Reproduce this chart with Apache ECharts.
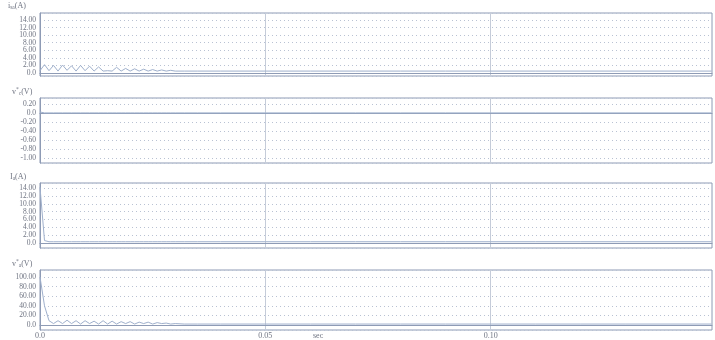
<!DOCTYPE html>
<html><head><meta charset="utf-8">
<script src="https://cdn.jsdelivr.net/npm/echarts@6/dist/echarts.min.js"></script>
<style>html,body{margin:0;padding:0;background:#fff}#c{width:715px;height:340px}</style>
</head><body><div id="c"></div>
<script>
// time samples (s)
const time = [0,0.001,0.002,0.003,0.004,0.005,0.006,0.007,0.008,0.009,0.010,0.011,0.012,0.013,0.014,0.015,0.016,0.017,0.018,0.019,0.020,0.021,0.022,0.023,0.024,0.025,0.026,0.027,0.028,0.029,0.030,0.032,0.035,0.040,0.050,0.060,0.070,0.080,0.090,0.100,0.110,0.120,0.130,0.140,0.149];
// panel 1: i_sa (A)
const iSa = [0.6,2.2,0.6,2.0,0.5,2.1,0.7,1.9,0.5,2.0,0.6,1.8,0.5,1.6,0.5,0.6,0.5,1.5,0.5,1.2,0.5,1.1,0.5,1.0,0.5,0.9,0.5,0.8,0.5,0.7,0.5,0.5,0.5,0.5,0.5,0.5,0.5,0.5,0.5,0.5,0.5,0.5,0.5,0.5,0.5];
// panel 2: v'c (V)
const vC = [0.02,0.0,0.0,0.0,0.0,0.0,0.0,0.0,0.0,0.0,0.0,0.0,0.0,0.0,0.0,0.0,0.0,0.0,0.0,0.0,0.0,0.0,0.0,0.0,0.0,0.0,0.0,0.0,0.0,0.0,0.0,0.0,0.0,0.0,0.0,0.0,0.0,0.0,0.0,0.0,0.0,0.0,0.0,0.0,0.0];
// panel 3: Ia (A)
const iA = [14.2,0.6,0.3,0.3,0.3,0.3,0.3,0.3,0.3,0.3,0.3,0.3,0.3,0.3,0.3,0.3,0.3,0.3,0.3,0.3,0.3,0.3,0.3,0.3,0.3,0.3,0.3,0.3,0.3,0.3,0.3,0.3,0.3,0.3,0.3,0.3,0.3,0.3,0.3,0.3,0.3,0.3,0.3,0.3,0.3];
// panel 4: v'a (V)
const vA = [100,40,9,3,9,3,10,3,9,2,9,3,8,2,9,2,8,2,7,3,7,2,6,3,6,2,5,3,4,2,3,2,2,2,2,2,2,2,2,2,2,2,2,2,2];
// axis ticks
const xTickStep = 0.05;
const yLimits = [[-0.8,15.85],[-1.11,0.33],[-1.3,15.3],[-10.4,114.6]];
const ySplits = [8,7,8,6];

const chart = echarts.init(document.getElementById('c'));
const tops = [13,98,183,270];
const heights = [63,65,65,60];
const lineCol = '#9fb0cc';
const axisCol = '#8e9bb5';
const txtCol = '#6f7482';
const font = 'Liberation Serif';
function fmtY(v){ return Math.abs(v) < 1e-9 ? '0.0' : v.toFixed(2); }
function pairs(arr){ return time.map((t,i)=>[t,arr[i]]); }
const seriesData = [iSa,vC,iA,vA];

const grids = [], xAxes = [], yAxes = [], series = [];
for (let k=0;k<4;k++){
  grids.push({left:40,right:3,top:tops[k],height:heights[k],show:true,borderColor:axisCol,borderWidth:1,outerBoundsMode:'none',containLabel:false});
  xAxes.push({type:'value',gridIndex:k,min:0,max:0.1491,interval:xTickStep,
    axisLine:{show:true,lineStyle:{color:axisCol}},axisTick:{show:false},
    axisLabel:{show:k===3,color:txtCol,fontFamily:font,fontSize:8,margin:2,showMaxLabel:false,formatter:v=>v===0?'0.0':v.toFixed(2)},
    splitLine:{show:true,lineStyle:{color:'#c5ccd9',width:1}}});
  yAxes.push({type:'value',gridIndex:k,min:yLimits[k][0],max:yLimits[k][1],splitNumber:ySplits[k],
    axisLine:{show:true,lineStyle:{color:axisCol}},axisTick:{show:false},
    axisLabel:{color:txtCol,fontFamily:font,fontSize:7.5,margin:4,showMinLabel:false,showMaxLabel:false,formatter:fmtY},
    splitLine:{show:true,lineStyle:{color:'#b9c2d3',type:[1,3],width:1}}});
  series.push({type:'line',xAxisIndex:k,yAxisIndex:k,data:pairs(seriesData[k]),showSymbol:false,
    lineStyle:{color:lineCol,width:1},silent:true,animation:false});
}
const rich = {a:{fontSize:8,fontFamily:font,color:txtCol},s:{fontSize:5.5,fontFamily:font,color:txtCol,padding:[4,0,0,0]},p:{fontSize:5.5,fontFamily:font,color:txtCol,padding:[0,0,4,0]}};
function title(txt,x,y){ return {type:'text',left:x,top:y,style:{text:txt,rich:rich,fill:txtCol}}; }
chart.setOption({
  animation:false,
  backgroundColor:'#fff',
  grid:grids, xAxis:xAxes, yAxis:yAxes, series:series,
  graphic:[
    title('{a|i}{s|sa}{a|(A)}',8,2),
    title('{a|v}{p|*}{s|c}{a|(V)}',12,87),
    title('{a|I}{s|a}{a|(A)}',10,173),
    title('{a|v}{p|*}{s|a}{a|(V)}',12,259),
    {type:'text',left:313,top:332,style:{text:'sec',fill:txtCol,font:'8px '+font}}
  ]
});
</script></body></html>
